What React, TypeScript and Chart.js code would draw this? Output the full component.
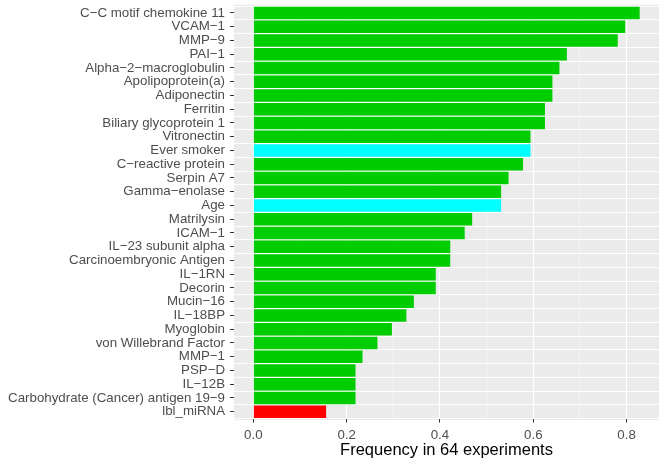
import React, { useEffect, useRef } from "react";
import { Chart, registerables } from "chart.js";

Chart.register(...registerables);

const CATEGORIES = [
  "C\u2212C motif chemokine 11",
  "VCAM\u22121",
  "MMP\u22129",
  "PAI\u22121",
  "Alpha\u22122\u2212macroglobulin",
  "Apolipoprotein(a)",
  "Adiponectin",
  "Ferritin",
  "Biliary glycoprotein 1",
  "Vitronectin",
  "Ever smoker",
  "C\u2212reactive protein",
  "Serpin A7",
  "Gamma\u2212enolase",
  "Age",
  "Matrilysin",
  "ICAM\u22121",
  "IL\u221223 subunit alpha",
  "Carcinoembryonic Antigen",
  "IL\u22121RN",
  "Decorin",
  "Mucin\u221216",
  "IL\u221218BP",
  "Myoglobin",
  "von Willebrand Factor",
  "MMP\u22121",
  "PSP\u2212D",
  "IL\u221212B",
  "Carbohydrate (Cancer) antigen 19\u22129",
  "lbl_miRNA",
];

const FREQUENCIES = [
  0.828, 0.797, 0.781, 0.672, 0.656, 0.641, 0.641, 0.625, 0.625, 0.594,
  0.594, 0.578, 0.547, 0.531, 0.531, 0.469, 0.453, 0.422, 0.422, 0.391,
  0.391, 0.344, 0.328, 0.297, 0.266, 0.234, 0.219, 0.219, 0.219, 0.156,
];

const GROUPS = [
  "protein", "protein", "protein", "protein", "protein", "protein", "protein", "protein", "protein", "protein",
  "clinical", "protein", "protein", "protein", "clinical", "protein", "protein", "protein", "protein", "protein",
  "protein", "protein", "protein", "protein", "protein", "protein", "protein", "protein", "protein", "mirna",
];

const GROUP_COLORS: Record<string, string> = {
  protein: "#00CD00",
  clinical: "#00FFFF",
  mirna: "#FF0000",
};

const X_TICKS = [0, 0.1, 0.2, 0.3, 0.4, 0.5, 0.6, 0.7, 0.8];
const X_MAJOR = [0, 0.2, 0.4, 0.6, 0.8];
const X_TITLE = "Frequency in 64 experiments";

const FONT = "'Liberation Sans', Arial, Helvetica, sans-serif";

export default function App() {
  const ref = useRef<HTMLCanvasElement>(null);

  useEffect(() => {
    const maxV = Math.max(...FREQUENCIES);
    const isMajor = (v: number) => X_MAJOR.some((m) => Math.abs(m - v) < 1e-6);

    const panelPlugin = {
      id: "panelBg",
      beforeDraw(chart: any) {
        const { ctx, chartArea: a } = chart;
        const slot = (a.bottom - a.top) / CATEGORIES.length;
        const ext = 0.1 * slot;
        ctx.save();
        ctx.fillStyle = "#EBEBEB";
        ctx.fillRect(a.left, a.top - ext, a.right - a.left, a.bottom - a.top + 2 * ext);
        ctx.restore();
      },
    };

    const chart = new Chart(ref.current!, {
      type: "bar",
      data: {
        labels: CATEGORIES,
        datasets: [
          {
            data: FREQUENCIES,
            backgroundColor: GROUPS.map((g) => GROUP_COLORS[g]),
            borderWidth: 0,
            barPercentage: 0.9,
            categoryPercentage: 1,
            xAxisID: "x",
            yAxisID: "y",
          },
        ],
      },
      options: {
        indexAxis: "y",
        animation: false,
        responsive: false,
        devicePixelRatio: 1,
        layout: { padding: { top: 6.07, right: 10, left: 0, bottom: 0 } },
        plugins: {
          legend: { display: false },
          tooltip: { enabled: false },
        },
        scales: {
          x: {
            type: "linear",
            position: "bottom",
            min: -0.05 * maxV,
            max: 1.05 * maxV,
            afterBuildTicks: (s: any) => {
              s.ticks = X_TICKS.map((v) => ({ value: v }));
            },
            afterFit: (s: any) => {
              s.height = 46.4;
              s.paddingLeft = 0;
              s.paddingRight = 0;
            },
            border: { display: false },
            grid: {
              color: "#FFFFFF",
              lineWidth: (c: any) => (c.tick && isMajor(c.tick.value) ? 1.07 : 0.53),
              tickColor: (c: any) => (c.tick && isMajor(c.tick.value) ? "#333333" : "rgba(0,0,0,0)"),
              tickLength: 4,
              tickWidth: 1,
            },
            ticks: {
              autoSkip: false,
              maxRotation: 0,
              padding: 5,
              color: "#4D4D4D",
              font: { family: FONT, size: 13.3 },
              callback: (v: any) => (isMajor(Number(v)) ? Number(v).toFixed(1) : ""),
            },
            title: {
              display: true,
              text: X_TITLE,
              color: "#000000",
              font: { family: FONT, size: 16.5 },
              padding: { top: 0, bottom: 4.4 },
            },
          },
          y: {
            type: "category",
            position: "left",
            afterFit: (s: any) => {
              s.width = 234;
              s.paddingTop = 0;
              s.paddingBottom = 0;
            },
            border: { display: false },
            grid: {
              drawOnChartArea: false,
              offset: false,
              tickLength: 4,
              tickColor: "#333333",
              tickWidth: 1,
            },
            ticks: {
              autoSkip: false,
              padding: 5,
              color: "#4D4D4D",
              font: { family: FONT, size: 13.3 },
            },
          },
          yb: {
            type: "category",
            position: "left",
            border: { display: false },
            grid: {
              offset: true,
              color: "#FFFFFF",
              lineWidth: 1.07,
              drawTicks: false,
            },
            ticks: { display: false },
          },
        },
      } as any,
      plugins: [panelPlugin],
    });

    return () => chart.destroy();
  }, []);

  return (
    <div style={{ position: "absolute", left: 0, top: 0, width: 669, height: 465, background: "#FFFFFF" }}>
      <canvas ref={ref} width={669} height={465} style={{ width: 669, height: 465, display: "block" }} />
    </div>
  );
}
